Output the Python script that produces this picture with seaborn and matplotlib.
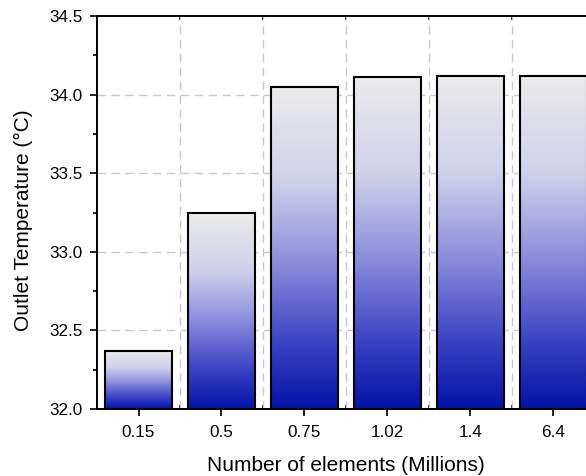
import numpy as np
import pandas as pd
import matplotlib
matplotlib.use("Agg")
import matplotlib.pyplot as plt
from matplotlib.colors import LinearSegmentedColormap
from matplotlib.ticker import MultipleLocator, FixedLocator
import seaborn as sns

# Mesh independence study: outlet temperature vs. mesh size
mesh_sizes = ["0.15", "0.5", "0.75", "1.02", "1.4", "6.4"]
outlet_temp = [32.37, 33.25, 34.05, 34.11, 34.12, 34.12]
y_ticks = [32.0, 32.5, 33.0, 33.5, 34.0, 34.5]
y_tick_labels = ["32.0", "32.5", "33.0", "33.5", "34.0", "34.5"]

df = pd.DataFrame({"mesh": mesh_sizes, "temp": outlet_temp})

sns.set_theme(style="white")
plt.rcParams["font.family"] = ["Liberation Sans", "DejaVu Sans"]

fig = plt.figure(figsize=(5.86, 4.76), dpi=100)
ax = fig.add_axes([97 / 586, 67 / 476, 498 / 586, 393 / 476])

sns.barplot(data=df, x="mesh", y="temp", order=mesh_sizes, width=0.8,
            color="white", edgecolor="black", linewidth=1.5, ax=ax, zorder=3)

y_min, y_max = 32.0, 34.5

# Vertical blue-to-grey gradient inside each bar
grad_cmap = LinearSegmentedColormap.from_list(
    "bluegrey",
    [(0.0, "#0312A8"), (0.2, "#3A42C4"), (0.45, "#8A8CDC"),
     (0.7, "#CFCFEA"), (1.0, "#EBEBEB")])
grad = np.linspace(0, 1, 256).reshape(-1, 1)
for patch in ax.patches:
    x0 = patch.get_x()
    w = patch.get_width()
    top = patch.get_y() + patch.get_height()
    patch.set_facecolor("none")
    im = ax.imshow(grad, cmap=grad_cmap, origin="lower", aspect="auto",
                   extent=[x0, x0 + w, y_min, top], zorder=2.5,
                   interpolation="bilinear")
    im.set_clip_path(patch)
ax.set_xlim(-0.5, 5.5)
ax.set_ylim(y_min, y_max)

# Ticks and grid
ax.set_yticks(y_ticks)
ax.set_yticklabels(y_tick_labels)
ax.yaxis.set_minor_locator(MultipleLocator(0.25))
ax.xaxis.set_minor_locator(FixedLocator([0.5, 1.5, 2.5, 3.5, 4.5]))

ax.grid(False)
for yv in y_ticks[1:-1]:
    ax.axhline(yv, color="#C8C8C8", lw=1.0, ls=(0, (6, 4)), zorder=1)
for xv in [0.5, 1.5, 2.5, 3.5, 4.5]:
    ax.axvline(xv, color="#C8C8C8", lw=1.0, ls=(0, (6, 4)), zorder=1)

for side in ["left", "bottom", "top", "right"]:
    ax.spines[side].set_visible(True)
    ax.spines[side].set_color("black")
    ax.spines[side].set_linewidth(1.4)

ax.tick_params(axis="both", which="major", direction="out", length=5,
               width=1.2, color="black", labelsize=12.3,
               labelcolor="black", bottom=True, left=True)
ax.tick_params(axis="x", which="major", pad=6.5)
ax.tick_params(axis="y", which="major", pad=5.5)
ax.tick_params(axis="both", which="minor", direction="out", length=3,
               width=1.2, color="black", bottom=True, left=True)
ax.tick_params(axis="x", which="minor", top=True, direction="in", length=3)

ax.set_xlabel("Number of elements (Millions)", fontsize=15, color="black",
              va="center")
ax.set_ylabel("Outlet Temperature (°C)", fontsize=15, color="black",
              va="center")
ax.xaxis.set_label_coords(0.5, -0.145)
ax.yaxis.set_label_coords(-0.1486, 0.481)

fig.savefig("out.png", dpi=100)
